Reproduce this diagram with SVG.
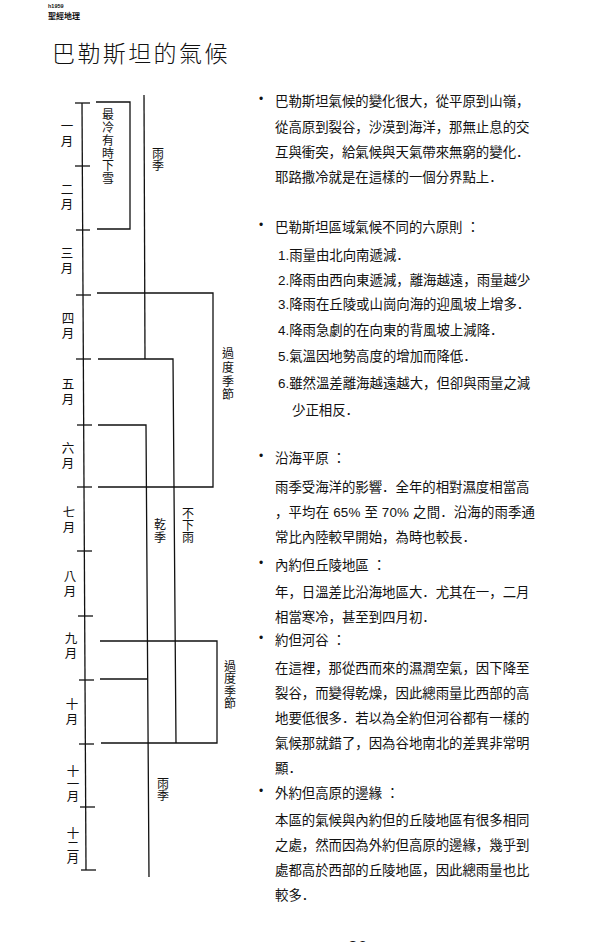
<svg xmlns="http://www.w3.org/2000/svg" width="600" height="942" viewBox="0 0 600 942">
<style>
.bg{fill:#ffffff}
.ln{stroke:#111;stroke-width:1.3;fill:none}
.body{font-family:"Liberation Sans","Noto Sans CJK JP",sans-serif;font-size:13.4px;fill:#111}
.v{font-family:"Noto Sans CJK TC",sans-serif;fill:#111;text-anchor:middle;writing-mode:vertical-rl;text-orientation:upright}
.lab{font-size:12px}
.mon{font-size:12.5px;letter-spacing:2.5px}
.mon3{font-size:12.5px;letter-spacing:0.3px}
.bul{font-family:"Liberation Sans",sans-serif;font-size:12px;fill:#111}
</style>
<rect class="bg" x="0" y="0" width="600" height="942"/>

<g id="header">
<text x="48" y="8" style="font-family:'Liberation Sans',sans-serif;font-size:5.5px;font-weight:bold;fill:#111">h1959</text>
<text x="48" y="19" style="font-family:'Noto Sans CJK TC',sans-serif;font-size:8px;font-weight:bold;fill:#111">聖經地理</text>
<text x="52" y="62" style="font-family:'Noto Sans CJK TC',sans-serif;font-size:23px;font-weight:300;letter-spacing:2.4px;fill:#111">巴勒斯坦的氣候</text>
</g>

<g id="connectors">
<line class="ln" x1="82" y1="103" x2="86" y2="870"/>
<line class="ln" x1="75" y1="103" x2="90" y2="103"/>
<line class="ln" x1="75" y1="166" x2="90" y2="166"/>
<line class="ln" x1="76" y1="230" x2="90" y2="230"/>
<line class="ln" x1="76" y1="295" x2="91" y2="295"/>
<line class="ln" x1="76" y1="359" x2="91" y2="359"/>
<line class="ln" x1="77" y1="425" x2="92" y2="425"/>
<line class="ln" x1="77" y1="487" x2="92" y2="487"/>
<line class="ln" x1="77" y1="551" x2="92" y2="551"/>
<line class="ln" x1="78" y1="616" x2="93" y2="616"/>
<line class="ln" x1="79" y1="680" x2="94" y2="680"/>
<line class="ln" x1="79" y1="744" x2="94" y2="744"/>
<line class="ln" x1="80" y1="807" x2="95" y2="807"/>
<line class="ln" x1="81" y1="870" x2="96" y2="870"/>
<path class="ln" d="M96,102 H130 V229 H97"/>
<line class="ln" x1="144" y1="95" x2="145" y2="359"/>
<path class="ln" d="M97,293 H213 V487 H98"/>
<path class="ln" d="M98,359 H173 L176,743"/>
<path class="ln" d="M98,425 H146 L149,877"/>
<path class="ln" d="M100,641 H217 V743 H101"/>
<line class="ln" x1="100" y1="679" x2="147" y2="679"/>
</g>

<g id="months">
<text class="v mon" x="67" y="135">一月</text>
<text class="v mon" x="67" y="198">二月</text>
<text class="v mon" x="67" y="262">三月</text>
<text class="v mon" x="68" y="327">四月</text>
<text class="v mon" x="68" y="393">五月</text>
<text class="v mon" x="68" y="457">六月</text>
<text class="v mon" x="69" y="521">七月</text>
<text class="v mon" x="70" y="585">八月</text>
<text class="v mon" x="71" y="647">九月</text>
<text class="v mon" x="72" y="713">十月</text>
<text class="v mon3" x="73" y="784">十一月</text>
<text class="v mon3" x="73" y="846">十二月</text>
</g>

<g id="snow">
<text class="v lab" x="108" y="147" style="letter-spacing:0.8px">最冷有時下雪</text>
</g>
<g id="rain1">
<text class="v lab" x="158" y="159">雨季</text>
</g>
<g id="trans1">
<text class="v lab" x="228" y="375" style="letter-spacing:1.7px">過度季節</text>
</g>
<g id="dry">
<text class="v lab" x="160" y="531" style="letter-spacing:1px">乾季</text>
</g>
<g id="norain">
<text class="v lab" x="188" y="525">不下雨</text>
</g>
<g id="trans2">
<text class="v lab" x="230" y="685" style="letter-spacing:0.5px">過度季節</text>
</g>
<g id="rain2">
<text class="v lab" x="163" y="789">雨季</text>
</g>

<g id="sec1">
<text class="bul" x="259" y="103">•</text>
<text class="body" x="275" y="106">巴勒斯坦氣候的變化很大，從平原到山嶺，</text>
<text class="body" x="275" y="132">從高原到裂谷，沙漠到海洋，那無止息的交</text>
<text class="body" x="275" y="157">互與衝突，給氣候與天氣帶來無窮的變化．</text>
<text class="body" x="275" y="182">耶路撒冷就是在這樣的一個分界點上．</text>
</g>

<g id="sec2">
<text class="bul" x="259" y="229">•</text>
<text class="body" x="275" y="232">巴勒斯坦區域氣候不同的六原則 ：</text>
<text class="body" x="278" y="260">1.雨量由北向南遞減．</text>
<text class="body" x="278" y="285">2.降雨由西向東遞減，離海越遠，雨量越少</text>
<text class="body" x="278" y="309">3.降雨在丘陵或山崗向海的迎風坡上增多．</text>
<text class="body" x="278" y="335">4.降雨急劇的在向東的背風坡上減降．</text>
<text class="body" x="278" y="361">5.氣溫因地勢高度的增加而降低．</text>
<text class="body" x="278" y="388">6.雖然溫差離海越遠越大，但卻與雨量之減</text>
<text class="body" x="292" y="415">少正相反．</text>
</g>

<g id="sec3">
<text class="bul" x="259" y="460">•</text>
<text class="body" x="275" y="463">沿海平原 ：</text>
<text class="body" x="275" y="492">雨季受海洋的影響．全年的相對濕度相當高</text>
<text class="body" x="275" y="517" textLength="260" lengthAdjust="spacing">，平均在 65% 至 70% 之間．沿海的雨季通</text>
<text class="body" x="275" y="542">常比內陸較早開始，為時也較長．</text>
<text class="bul" x="259" y="567">•</text>
<text class="body" x="275" y="570">內約但丘陵地區 ：</text>
<text class="body" x="275" y="597">年，日溫差比沿海地區大．尤其在一，二月</text>
<text class="body" x="275" y="622">相當寒冷，甚至到四月初．</text>
</g>

<g id="sec4">
<text class="bul" x="259" y="642">•</text>
<text class="body" x="275" y="645">約但河谷 ：</text>
<text class="body" x="275" y="673">在這裡，那從西而來的濕潤空氣，因下降至</text>
<text class="body" x="275" y="698">裂谷，而變得乾燥，因此總雨量比西部的高</text>
<text class="body" x="275" y="723">地要低很多．若以為全約但河谷都有一樣的</text>
<text class="body" x="275" y="748">氣候那就錯了，因為谷地南北的差異非常明</text>
<text class="body" x="275" y="773">顯．</text>
</g>

<g id="sec5">
<text class="bul" x="259" y="795">•</text>
<text class="body" x="275" y="798">外約但高原的邊緣 ：</text>
<text class="body" x="275" y="825">本區的氣候與內約但的丘陵地區有很多相同</text>
<text class="body" x="275" y="850">之處，然而因為外約但高原的邊緣，幾乎到</text>
<text class="body" x="275" y="875">處都高於西部的丘陵地區，因此總雨量也比</text>
<text class="body" x="275" y="900">較多．</text>
</g>

<g id="page">
<text x="348" y="953" style="font-family:'Liberation Sans',sans-serif;font-size:17px;fill:#111">26</text>
</g>
</svg>
